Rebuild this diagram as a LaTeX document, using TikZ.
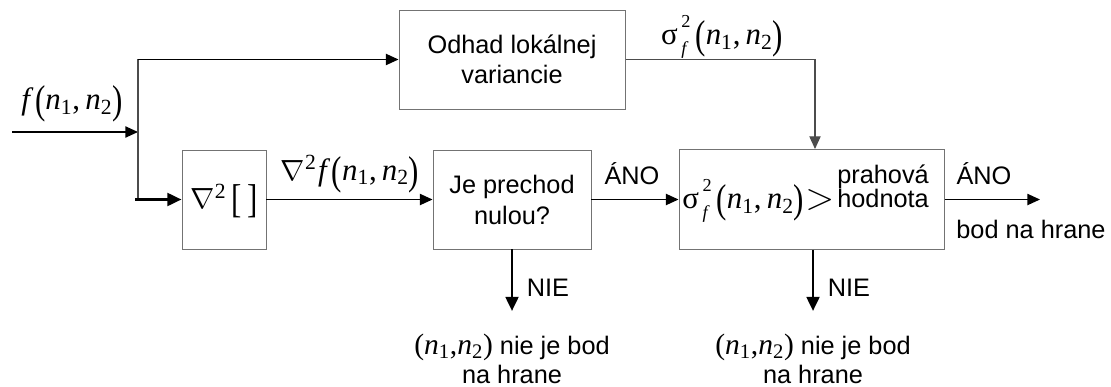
\documentclass[tikz,border=0pt]{standalone}
\usepackage{fontspec}
\setmainfont{Liberation Sans}
\newfontfamily\tnr{Liberation Serif}
\usepackage{graphicx}
\usetikzlibrary{arrows.meta}
\newcommand\bp[1]{\raisebox{-0.12em}{\scalebox{1}[1.3]{#1}}}
\newcommand\nn{\bp{(}\textit{n}\textsubscript{1},\,\textit{n}\textsubscript{2}\bp{)}}
\newcommand\fnn{\textit{f}\kern0.05em\nn}
\newcommand\sq{σ\kern0.12em\raisebox{-0.3em}{\rlap{\raisebox{0.85em}{\fontsize{13}{13}\selectfont 2}}\fontsize{13}{13}\selectfont\textit{f}}\kern0.22em}
\tikzset{
 box/.style={draw=black!55, line width=0.7pt, inner sep=0pt, anchor=center},
 lbl/.style={font=\fontsize{18}{18}\selectfont, inner sep=0pt},
 mth/.style={font=\tnr\fontsize{22}{22}\selectfont, inner sep=0pt},
 arr/.style={line width=1pt, -{Triangle[length=9pt,width=8pt]}},
 tarr/.style={line width=2pt, -{Triangle[length=10pt,width=9pt]}},
 wire/.style={line width=0.8pt, draw=black!70},
}
\begin{document}
\begin{tikzpicture}[x=0.025cm,y=-0.025cm]
\useasboundingbox (0,0) rectangle (1111,387);
% boxes
\node[box, minimum width=226*0.025cm, minimum height=99*0.025cm, align=center,
      font=\fontsize{18}{21}\selectfont] (var) at (512,59.5) {Odhad lokálnej\\variancie};
\node[box, minimum width=84*0.025cm, minimum height=99*0.025cm] (lap) at (224,199.5) {};
\node[mth] (lapt) at (224,201) {$\nabla$\textsuperscript{2}\,\bp{[}\,\bp{]}};
\node[box, minimum width=158*0.025cm, minimum height=99*0.025cm, align=center,
      font=\fontsize{18}{22}\selectfont] (je) at (512,199.5) {Je prechod\\nulou?};
\node[box, minimum width=265*0.025cm, minimum height=100*0.025cm] (cmp) at (811.5,199.5) {};
\node[mth, anchor=west] (cmpf) at (682,201) {\sq\nn\kern0.04em\raisebox{-0.03em}{\scalebox{1.3}{$>$}}};
\node[lbl, anchor=west, align=left, font=\fontsize{18}{17}\selectfont] (thr) at (837,186) {prahová\\hodnota};
% coordinates
\coordinate (in) at (12,132);
\coordinate (jm) at (138,132);
\coordinate (ja) at (138,59.5);
\coordinate (jb) at (138,199.5);
\coordinate (jc) at (135,199.5);
\coordinate (v) at (815,59.5);
\coordinate (out) at (1040,199.5);
\coordinate (n1) at (512,311);
\coordinate (n2) at (813,311);
% connectors
\draw[arr] (in) -- (jm);
\draw[wire] (ja) -- (jb);
\draw[arr] (ja) -- (var.west);
\draw[tarr] (jc) -- (lap.west);
\draw[wire] (var.east) -- (v);
\draw[line width=0.8pt, draw=black!70, -{Triangle[length=9pt,width=8pt]}] (v) -- (v |- cmp.north);
\draw[arr] (lap.east) -- (je.west);
\draw[arr] (je.east) -- (cmp.west);
\draw[arr] (cmp.east) -- (out);
\draw[tarr] (je.south) -- (n1);
\draw[tarr] (n2 |- cmp.south) -- (n2);
% labels
\node[mth] (lf) at (72,104) {\fnn};
\node[mth] (ll) at (350,174) {$\nabla$\textsuperscript{2}\kern0.05em\fnn};
\node[mth] (ls) at (722,37) {\sq\nn};
\node[lbl] (a1) at (632,174) {ÁNO};
\node[lbl] (a2) at (984,174) {ÁNO};
\node[lbl] (bod) at (1031,229) {bod na hrane};
\node[lbl] (nie1) at (548,288) {NIE};
\node[lbl] (nie2) at (849,288) {NIE};
\node[lbl, align=center, font=\fontsize{18}{21}\selectfont] (t1) at (512,359) {{\tnr\fontsize{21}{21}\selectfont(\textit{n}\textsubscript{1},\textit{n}\textsubscript{2})} nie je bod\\na hrane};
\node[lbl, align=center, font=\fontsize{18}{21}\selectfont] (t2) at (813,359) {{\tnr\fontsize{21}{21}\selectfont(\textit{n}\textsubscript{1},\textit{n}\textsubscript{2})} nie je bod\\na hrane};
\end{tikzpicture}
\end{document}
